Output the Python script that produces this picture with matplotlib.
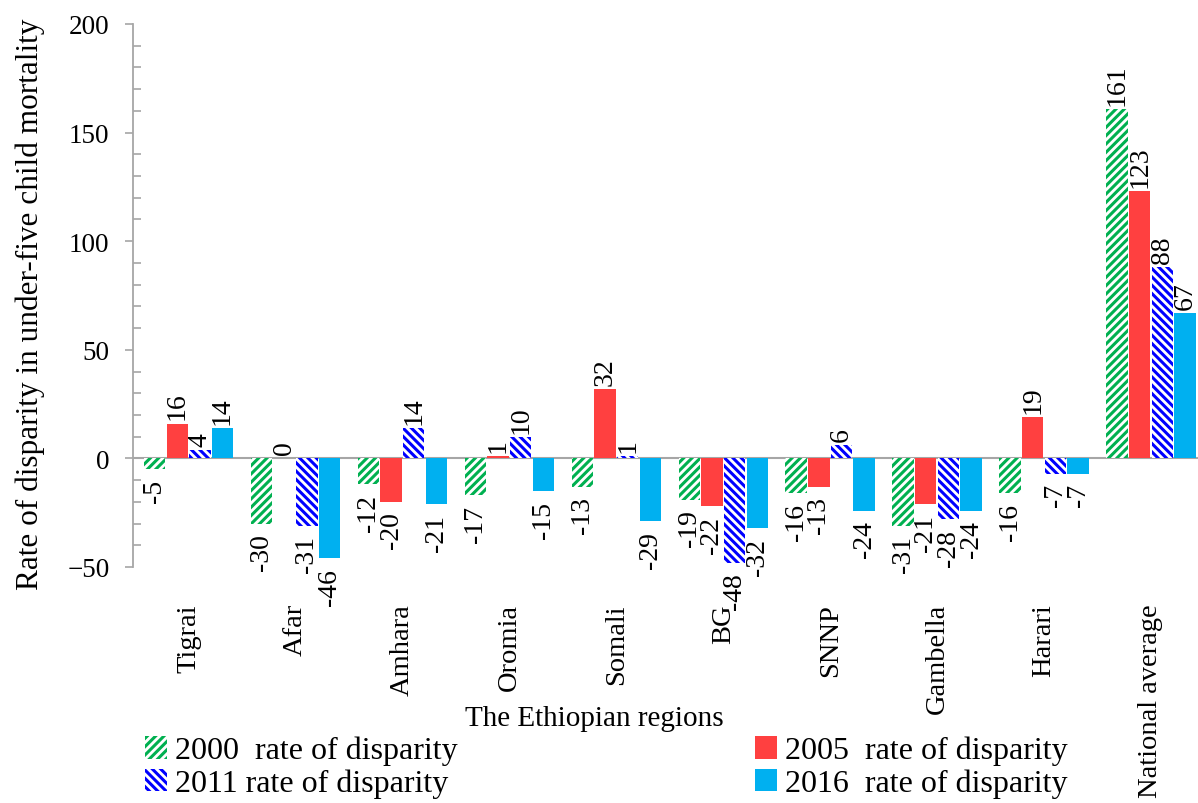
import numpy as np
import matplotlib
matplotlib.use("Agg")
import matplotlib.pyplot as plt
from matplotlib.ticker import MultipleLocator

plt.rcParams['font.family'] = ['Liberation Serif', 'DejaVu Serif']
plt.rcParams['hatch.linewidth'] = 2.2

regions = ["Tigrai", "Afar", "Amhara", "Oromia", "Somali", "BG", "SNNP",
           "Gambella", "Harari", "National average"]
rate_2000 = [-5, -30, -12, -17, -13, -19, -16, -31, -16, 161]
rate_2005 = [16, 0, -20, 1, 32, -22, -13, -21, 19, 123]
rate_2011 = [4, -31, 14, 10, 1, -48, 6, -28, -7, 88]
rate_2016 = [14, -46, -21, -15, -29, -32, -24, -24, -7, 67]
series_labels = ["2000  rate of disparity", "2005  rate of disparity",
                 "2011 rate of disparity", "2016  rate of disparity"]

W, H = 1198, 804
fig = plt.figure(figsize=(W / 100, H / 100), dpi=100)
ax = fig.add_axes([133 / W, 1 - 568 / H, 1 - 133 / W, (568 - 25) / H])

x = np.arange(len(regions))
bw = 0.2
step = 0.212
styles = [
    dict(facecolor="white", edgecolor="#00B050", hatch="////"),
    dict(facecolor="#FF4040", edgecolor="#FF4040"),
    dict(facecolor="white", edgecolor="#0000FF", hatch="\\\\\\\\"),
    dict(facecolor="#00B0F0", edgecolor="#00B0F0"),
]
handles = []
for i, (vals, st, lab) in enumerate(zip([rate_2000, rate_2005, rate_2011, rate_2016],
                                         styles, series_labels)):
    pos = x + (i - 1.5) * step
    bars = ax.bar(pos, vals, bw, linewidth=0, label=lab, **st)
    handles.append(bars)
    for p, v in zip(pos, vals):
        if v >= 0:
            ax.annotate(str(v), (p, v), xytext=(0, 3), textcoords="offset points",
                        rotation=90, ha="center", va="bottom", fontsize=20,
                        annotation_clip=False)
        else:
            ax.annotate(str(v), (p, v), xytext=(0, -7), textcoords="offset points",
                        rotation=90, ha="center", va="top", fontsize=20,
                        annotation_clip=False)

ax.set_xlim(-0.52, 9.44)
ax.set_ylim(-50, 200)
ax.axhline(0, color="#A6A6A6", lw=1.5, zorder=0.5)

for s in ["top", "right", "bottom"]:
    ax.spines[s].set_visible(False)
ax.spines["left"].set_color("#A6A6A6")
ax.spines["left"].set_linewidth(1.3)

ax.yaxis.set_major_locator(MultipleLocator(50))
ax.yaxis.set_minor_locator(MultipleLocator(10))
ax.tick_params(axis="y", which="major", direction="out", length=6, width=1.2,
               color="#A6A6A6", labelsize=19.5, pad=11)
ax.tick_params(axis="y", which="minor", direction="in", length=6, width=1.2,
               color="#A6A6A6")
ax.set_xticks(x)
ax.set_xticklabels(regions, rotation=90, va="top", ha="center", fontsize=20.5)
ax.tick_params(axis="x", length=0, pad=26)

fig.text(30 / W, 1 - 304 / H, "Rate of disparity in under-five child mortality",
         rotation=90, ha="center", va="center", fontsize=22.5)
fig.text(594 / W, 1 - 719 / H, "The Ethiopian regions", ha="center", va="center",
         fontsize=21)

order = [0, 2, 1, 3]
fig.legend([handles[k] for k in order], [series_labels[k] for k in order],
           ncol=2, loc="upper left", bbox_to_anchor=(145 / W, 1 - 737 / H),
           frameon=False, fontsize=23, handlelength=0.7, handleheight=0.7,
           handletextpad=0.25, columnspacing=9.3, labelspacing=0.1,
           borderpad=0, borderaxespad=0)

fig.savefig("out.png", dpi=100)
